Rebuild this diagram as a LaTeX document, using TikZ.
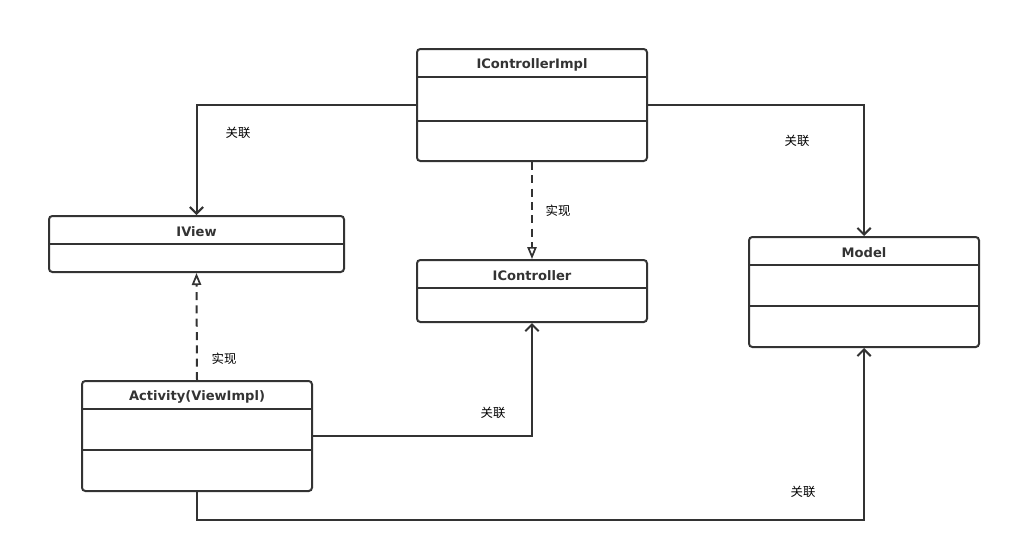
\documentclass[tikz,border=0pt]{standalone}
\usepackage{fontspec}
\setmainfont{DejaVu Sans}
\newfontfamily\cjk{Noto Sans CJK SC}
\usetikzlibrary{arrows.meta, positioning}
\definecolor{uml line}{HTML}{333333}
\tikzset{
  classbox/.style={draw=uml line, line width=1.5pt, rounded corners=2.5pt, anchor=north west, inner sep=0pt},
  classname/.style={font=\bfseries\fontsize{9.8}{11}\selectfont, text=uml line, inner sep=0pt, outer sep=0pt, minimum height=21.75pt},
  compartment/.style={inner sep=0pt, outer sep=0pt},
  divider/.style={draw=uml line, line width=1.5pt},
  assoc/.style={draw=uml line, line width=1.5pt, -{Straight Barb[length=5pt,width=10pt,line width=1.5pt]}},
  realize/.style={draw=uml line, line width=1.5pt, dash pattern=on 6pt off 4pt, -{Triangle[open,length=9pt,width=7pt,line width=1.3pt]}},
  lbl/.style={font=\cjk\fontsize{9.3}{11}\selectfont, text=black}
}
\begin{document}
\begin{tikzpicture}[x=0.75pt, y=-0.75pt]
  \useasboundingbox (0,0) rectangle (1010,551);

  % classes
  \node[classbox, minimum width=172.5pt, minimum height=84pt] (ctrlimpl) at (416,48) {};
  \node[classname, below=0pt of ctrlimpl.north] (ctrlimpl title) {};
  \node[classname, yshift=-1.8pt] at (ctrlimpl title) (ctrlimpl name) {IControllerImpl};
  \node[compartment, minimum height=33pt, below=0pt of ctrlimpl title] (ctrlimpl attrs) {};
  \draw[divider] (ctrlimpl title.south -| ctrlimpl.west) -- (ctrlimpl title.south -| ctrlimpl.east);
  \draw[divider] (ctrlimpl attrs.south -| ctrlimpl.west) -- (ctrlimpl attrs.south -| ctrlimpl.east);

  \node[classbox, minimum width=221.25pt, minimum height=42pt] (iview) at (48,215) {};
  \node[classname, below=0pt of iview.north] (iview title) {};
  \node[classname, yshift=-1.8pt] at (iview title) (iview name) {IView};
  \draw[divider] (iview title.south -| iview.west) -- (iview title.south -| iview.east);

  \node[classbox, minimum width=172.5pt, minimum height=46.5pt] (ictrl) at (416,259) {};
  \node[classname, below=0pt of ictrl.north] (ictrl title) {};
  \node[classname, yshift=-1.8pt] at (ictrl title) (ictrl name) {IController};
  \draw[divider] (ictrl title.south -| ictrl.west) -- (ictrl title.south -| ictrl.east);

  \node[classbox, minimum width=172.5pt, minimum height=82.5pt] (model) at (748,236) {};
  \node[classname, below=0pt of model.north] (model title) {};
  \node[classname, yshift=-1.8pt] at (model title) (model name) {Model};
  \node[compartment, minimum height=30.75pt, below=0pt of model title] (model attrs) {};
  \draw[divider] (model title.south -| model.west) -- (model title.south -| model.east);
  \draw[divider] (model attrs.south -| model.west) -- (model attrs.south -| model.east);

  \node[classbox, minimum width=172.5pt, minimum height=82.5pt] (activity) at (81,380) {};
  \node[classname, below=0pt of activity.north] (activity title) {};
  \node[classname, yshift=-1.8pt] at (activity title) (activity name) {Activity(ViewImpl)};
  \node[compartment, minimum height=30.75pt, below=0pt of activity title] (activity attrs) {};
  \draw[divider] (activity title.south -| activity.west) -- (activity title.south -| activity.east);
  \draw[divider] (activity attrs.south -| activity.west) -- (activity attrs.south -| activity.east);

  % relations
  \coordinate (rail) at (activity.south |- 0,520);
  \path[assoc] (ctrlimpl.west) -| (iview.north);
  \path[assoc] (ctrlimpl.east) -| (model.north);
  \path[realize] (ctrlimpl.south) -- (ictrl.north);
  \path[realize] (activity.north) -- (iview.south);
  \path[assoc] (activity.east) -| (ictrl.south);
  \path[assoc] (activity.south) -- (rail) -| (model.south);

  % labels
  \node[lbl] (lbl iview) at (238,133) {关联};
  \node[lbl] (lbl model) at (797,141) {关联};
  \node[lbl] (lbl ictrl) at (558,211) {实现};
  \node[lbl] (lbl activity) at (224,359) {实现};
  \node[lbl] (lbl act ctrl) at (493,413) {关联};
  \node[lbl] (lbl act model) at (803,492) {关联};
\end{tikzpicture}
\end{document}
